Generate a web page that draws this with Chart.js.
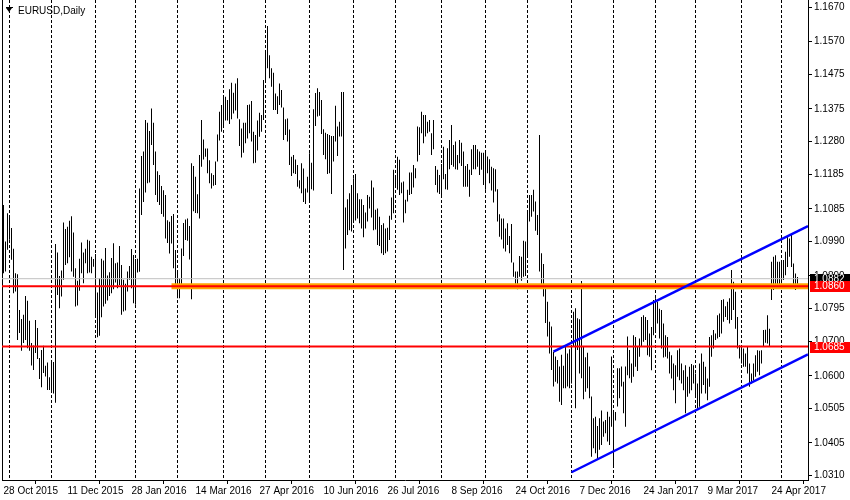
<!DOCTYPE html>
<html>
<head>
<meta charset="utf-8">
<title>EURUSD,Daily</title>
<script src="https://cdn.jsdelivr.net/npm/chart.js@4/dist/chart.umd.min.js"></script>
<style>
  html, body { margin: 0; padding: 0; background: #fff; }
  #wrap { position: relative; width: 850px; height: 500px; }
</style>
</head>
<body>
<div id="wrap"><canvas id="chart" width="850" height="500"></canvas></div>
<script>
/* ── DATA ────────────────────────────────────────────────── */
const symbolTitle = 'EURUSD,Daily';

// daily high / low, one entry per bar, bar 0 = 28 Oct 2015
const highs = [
  1.1096,1.0990,1.1072,1.1058,1.1029,1.0969,1.0898,1.0895,1.0791,1.0765, // 0
  1.0777,1.0832,1.0818,1.0760,1.0695,1.0688,1.0762,1.0739,1.0652,1.0675, // 10
  1.0687,1.0629,1.0639,1.0596,1.0641,1.0640,1.0983,1.0958,1.0890,1.0906, // 20
  1.1045,1.1026,1.1033,1.1050,1.1063,1.1016,1.0912,1.0876,1.0940,1.0987, // 30
  1.0958,1.0969,1.0995,1.0992,1.0946,1.0939,1.0954,1.0842,1.0883,1.0940, // 40
  1.0935,1.0971,1.0891,1.0901,1.0942,1.0985,1.0927,1.0929,1.0977,1.0922, // 50
  1.0879,1.0867,1.0903,1.0919,1.0968,1.0951,1.0939,1.0940,1.1144,1.1238, // 60
  1.1251,1.1343,1.1335,1.1311,1.1376,1.1335,1.1251,1.1194,1.1183,1.1151, // 70
  1.1139,1.1125,1.1052,1.1047,1.1064,1.1070,1.0965,1.0900,1.0883,1.0970, // 80
  1.1044,1.1054,1.1057,1.1035,1.1217,1.1209,1.1178,1.1127,1.1241,1.1343, // 90
  1.1286,1.1260,1.1260,1.1226,1.1188,1.1183,1.1222,1.1301,1.1367,1.1386, // 100
  1.1412,1.1410,1.1401,1.1432,1.1451,1.1422,1.1449,1.1464,1.1345,1.1318, // 110
  1.1335,1.1335,1.1386,1.1388,1.1398,1.1309,1.1299,1.1341,1.1364,1.1357, // 120
  1.1459,1.1546,1.1616,1.1531,1.1493,1.1480,1.1420,1.1412,1.1449,1.1430, // 130
  1.1379,1.1345,1.1347,1.1315,1.1236,1.1241,1.1228,1.1212,1.1168,1.1217, // 140
  1.1202,1.1144,1.1178,1.1246,1.1219,1.1374,1.1421,1.1435,1.1424,1.1401, // 150
  1.1316,1.1306,1.1302,1.1299,1.1296,1.1296,1.1384,1.1324,1.1338,1.1424, // 160
  1.1424,1.1089,1.1113,1.1130,1.1154,1.1174,1.1186,1.1130,1.1113,1.1113, // 170
  1.1096,1.1074,1.1125,1.1120,1.1167,1.1147,1.1082,1.1086,1.1062,1.1038, // 180
  1.1043,1.1028,1.1030,1.1065,1.1118,1.1198,1.1180,1.1236,1.1227,1.1161, // 190
  1.1164,1.1111,1.1140,1.1190,1.1190,1.1212,1.1203,1.1324,1.1322,1.1367, // 200
  1.1357,1.1357,1.1338,1.1343,1.1304,1.1343,1.1209,1.1198,1.1183,1.1215, // 210
  1.1265,1.1186,1.1261,1.1285,1.1328,1.1270,1.1280,1.1241,1.1285,1.1277, // 220
  1.1251,1.1209,1.1215,1.1198,1.1258,1.1270,1.1270,1.1258,1.1251,1.1248, // 230
  1.1248,1.1249,1.1237,1.1229,1.1207,1.1203,1.1200,1.1142,1.1069,1.1057, // 240
  1.1057,1.1028,1.1043,1.1006,1.1041,1.0929,1.0903,1.0903,1.0948,1.0946, // 250
  1.0992,1.0990,1.1077,1.1125,1.1125,1.1140,1.1106,1.1067,1.1299,1.0956, // 260
  1.0925,1.0859,1.0815,1.0757,1.0743,1.0670,1.0656,1.0646,1.0627,1.0661, // 270
  1.0629,1.0685,1.0665,1.0677,1.0683,1.0786,1.0796,1.0767,1.0764,1.0875, // 280
  1.0685,1.0654,1.0667,1.0627,1.0540,1.0477,1.0481,1.0454,1.0477,1.0499, // 290
  1.0467,1.0472,1.0496,1.0481,1.0656,1.0501,1.0495,1.0622,1.0622,1.0627, // 300
  1.0583,1.0627,1.0714,1.0675,1.0636,1.0718,1.0713,1.0686,1.0708,1.0771, // 310
  1.0776,1.0771,1.0762,1.0723,1.0742,1.0820,1.0825,1.0815,1.0795,1.0791, // 320
  1.0752,1.0718,1.0713,1.0670,1.0660,1.0636,1.0631,1.0674,1.0679,1.0636, // 330
  1.0616,1.0631,1.0597,1.0626,1.0634,1.0631,1.0607,1.0578,1.0636,1.0665, // 340
  1.0641,1.0626,1.0592,1.0713,1.0718,1.0733,1.0723,1.0776,1.0781,1.0820, // 350
  1.0822,1.0802,1.0815,1.0825,1.0907,1.0873,1.0844,1.0771,1.0689,1.0684, // 360
  1.0679,1.0665,1.0684,1.0636,1.0607,1.0636,1.0660,1.0674,1.0673,1.0674, // 370
  1.0733,1.0734,1.0776,1.0737,1.0931,1.0946,1.0950,1.0931,1.0931,1.0936, // 380
  1.0936,1.0960,1.1004,1.0999,1.1013,1.0926,1.0897,1.0887               // 390
];
const lows = [
  1.0898,1.0903,1.0966,1.0995,1.0937,1.0840,1.0845,1.0704,1.0724,1.0673, // 0
  1.0695,1.0704,1.0680,1.0673,1.0630,1.0617,1.0666,1.0649,1.0591,1.0567, // 10
  1.0608,1.0598,1.0559,1.0559,1.0552,1.0549,1.0522,1.0835,1.0796,1.0830, // 20
  1.0879,1.0922,1.0927,1.0944,1.0903,1.0888,1.0801,1.0804,1.0847,1.0898, // 30
  1.0869,1.0927,1.0898,1.0900,1.0898,1.0917,1.0772,1.0712,1.0716,1.0770, // 40
  1.0801,1.0809,1.0819,1.0832,1.0840,1.0851,1.0871,1.0854,1.0864,1.0777, // 50
  1.0787,1.0790,1.0845,1.0879,1.0854,1.0811,1.0806,1.0900,1.0902,1.1067, // 60
  1.1105,1.1132,1.1159,1.1161,1.1270,1.1212,1.1125,1.1105,1.1096,1.1070, // 70
  1.1062,1.0999,1.0986,1.0955,1.0984,1.0912,1.0863,1.0825,1.0825,1.0854, // 80
  1.0948,1.0994,1.0992,1.0938,1.0822,1.1078,1.1073,1.1072,1.1057,1.1207, // 90
  1.1228,1.1236,1.1188,1.1159,1.1144,1.1152,1.1154,1.1222,1.1283,1.1309, // 100
  1.1328,1.1341,1.1341,1.1331,1.1345,1.1362,1.1370,1.1347,1.1267,1.1234, // 110
  1.1248,1.1275,1.1289,1.1304,1.1280,1.1217,1.1219,1.1254,1.1294,1.1309, // 120
  1.1343,1.1459,1.1493,1.1464,1.1439,1.1372,1.1372,1.1360,1.1386,1.1379, // 130
  1.1285,1.1299,1.1280,1.1212,1.1180,1.1188,1.1186,1.1149,1.1144,1.1130, // 140
  1.1105,1.1099,1.1132,1.1105,1.1142,1.1138,1.1325,1.1353,1.1355,1.1302, // 150
  1.1241,1.1229,1.1186,1.1188,1.1128,1.1222,1.1280,1.1238,1.1295,1.1295, // 160
  1.0907,1.0970,1.1009,1.1023,1.1019,1.1048,1.1051,1.1057,1.1043,1.1028, // 170
  1.1002,1.1028,1.1048,1.1086,1.1060,1.1023,1.1025,1.0980,1.0977,1.0956, // 180
  1.0951,1.0956,1.0961,1.0994,1.1053,1.1072,1.1151,1.1140,1.1125,1.1130, // 190
  1.1045,1.1072,1.1106,1.1125,1.1128,1.1147,1.1174,1.1222,1.1241,1.1304, // 200
  1.1275,1.1295,1.1304,1.1309,1.1241,1.1258,1.1154,1.1132,1.1128,1.1120, // 210
  1.1171,1.1142,1.1140,1.1200,1.1212,1.1207,1.1200,1.1198,1.1217,1.1209, // 220
  1.1149,1.1149,1.1149,1.1120,1.1183,1.1200,1.1200,1.1207,1.1183,1.1198, // 230
  1.1154,1.1140,1.1188,1.1159,1.1138,1.1103,1.1135,1.1048,1.1004,1.0996, // 240
  1.0970,1.0961,1.0980,1.0956,1.0929,1.0888,1.0867,1.0851,1.0888,1.0876, // 250
  1.0888,1.0890,1.0946,1.1048,1.1062,1.1077,1.1021,1.1009,1.0903,1.0864, // 260
  1.0830,1.0753,1.0714,1.0665,1.0617,1.0569,1.0583,1.0578,1.0525,1.0515, // 270
  1.0564,1.0564,1.0569,1.0564,1.0578,1.0685,1.0506,1.0675,1.0607,1.0593, // 280
  1.0532,1.0554,1.0564,1.0535,1.0365,1.0390,1.0375,1.0356,1.0385,1.0399, // 290
  1.0423,1.0433,1.0409,1.0399,1.0452,1.0336,1.0470,1.0511,1.0535,1.0569, // 300
  1.0491,1.0452,1.0602,1.0593,1.0580,1.0597,1.0626,1.0614,1.0655,1.0684, // 310
  1.0699,1.0704,1.0660,1.0655,1.0616,1.0718,1.0733,1.0752,1.0708,1.0679, // 320
  1.0653,1.0655,1.0650,1.0607,1.0592,1.0558,1.0520,1.0597,1.0587,1.0578, // 330
  1.0558,1.0491,1.0539,1.0549,1.0558,1.0578,1.0539,1.0505,1.0510,1.0549, // 340
  1.0573,1.0549,1.0529,1.0568,1.0655,1.0679,1.0704,1.0708,1.0713,1.0723, // 350
  1.0757,1.0771,1.0762,1.0752,1.0762,1.0791,1.0737,1.0679,1.0650,1.0636, // 360
  1.0626,1.0626,1.0607,1.0568,1.0578,1.0587,1.0597,1.0612,1.0602,1.0636, // 370
  1.0684,1.0696,1.0694,1.0684,1.0820,1.0849,1.0858,1.0854,1.0863,1.0868, // 380
  1.0878,1.0892,1.0916,1.0946,1.0916,1.0863,1.0849,1.0863               // 390
];

// bottom axis: label text and the bar it sits on
const dateLabels = ['28 Oct 2015', '11 Dec 2015', '28 Jan 2016', '14 Mar 2016', '27 Apr 2016',
  '10 Jun 2016', '26 Jul 2016', '8 Sep 2016', '24 Oct 2016', '7 Dec 2016',
  '24 Jan 2017', '9 Mar 2017', '24 Apr 2017'];
const dateLabelBars = [0, 32, 64, 96, 128, 160, 192, 224, 256, 288, 320, 352, 384];

// first bar of each month -> dashed vertical grid
const monthStartBars = [3, 24, 46, 66, 87, 110, 131, 153, 175, 196, 219, 241, 262, 284, 305, 326, 346, 369, 389];

// right price scale
const priceTicks = [1.1670, 1.1570, 1.1475, 1.1375, 1.1280, 1.1185, 1.1085, 1.0990, 1.0890,
  1.0795, 1.0700, 1.0600, 1.0505, 1.0405, 1.0310];
const priceMin = 1.02975;
const priceMax = 1.16912;
const barMin = -0.75;
const barMax = 402.25;

// drawn objects
const bidPrice = 1.0882;
const levelPrices = [1.0860, 1.0685];
const zonePrice = 1.0860;
const zoneStartBar = 84;
const upperChannelBars = [275, 402.25];
const upperChannelPrices = [1.0670, 1.1035];
const lowerChannelBars = [284, 402.25];
const lowerChannelPrices = [1.0320, 1.0662];

/* ── HELPERS ─────────────────────────────────────────────── */
const FONT = "'Liberation Sans', Arial, sans-serif";

function hline(price, fromBar, color, width, order) {
    return {
        type: 'line',
        data: [{ x: fromBar, y: price }, { x: barMax, y: price }],
        borderColor: color,
        borderWidth: width,
        pointRadius: 0,
        order: order,
    };
}
function segment(bars, prices, color, width, order) {
    return {
        type: 'line',
        data: bars.map((b, i) => ({ x: b, y: prices[i] })),
        borderColor: color,
        borderWidth: width,
        pointRadius: 0,
        order: order,
    };
}

/* ── METATRADER DECORATIONS ──────────────────────────────── */
const mtPlugin = {
    id: 'mtDecor',
    beforeDatasetsDraw(chart) {
        const { ctx, chartArea: a, scales: { x } } = chart;
        ctx.save();
        ctx.strokeStyle = '#000';
        ctx.lineWidth = 1;
        ctx.setLineDash([3, 2]);
        monthStartBars.forEach(b => {
            const px = x.getPixelForValue(b);
            ctx.beginPath();
            ctx.moveTo(px, a.top);
            ctx.lineTo(px, a.bottom);
            ctx.stroke();
        });
        ctx.setLineDash([]);
        ctx.beginPath();
        ctx.moveTo(a.left + 0.5, a.top);
        ctx.lineTo(a.left + 0.5, a.bottom);
        ctx.stroke();
        ctx.restore();
    },
    afterDraw(chart) {
        const { ctx, chartArea: a, scales: { y } } = chart;
        ctx.save();

        /* title with the little menu arrow */
        ctx.fillStyle = '#000';
        ctx.beginPath();
        ctx.moveTo(a.left + 4, a.top + 8);
        ctx.lineTo(a.left + 10, a.top + 8);
        ctx.lineTo(a.left + 7, a.top + 12);
        ctx.closePath();
        ctx.fill();
        ctx.fillRect(a.left + 4, a.top + 7, 7, 1);
        ctx.font = '10px ' + FONT;
        ctx.textBaseline = 'middle';
        ctx.textAlign = 'left';
        ctx.fillText(symbolTitle, a.left + 16, a.top + 11);

        /* price tags on the right scale */
        const tags = [[bidPrice, '#000']].concat(levelPrices.map(p => [p, '#ff0000']));
        tags.forEach(([p, bg]) => {
            const py = Math.round(y.getPixelForValue(p));
            ctx.fillStyle = bg;
            ctx.fillRect(a.right + 2, py - 5, 40, 11);
            ctx.fillStyle = '#fff';
            ctx.fillText(p.toFixed(4), a.right + 6, py + 0.5);
        });
        ctx.restore();
    },
};

/* ── CHART ───────────────────────────────────────────────── */
new Chart(document.getElementById('chart'), {
    type: 'bar',
    data: {
        datasets: [
            segment(upperChannelBars, upperChannelPrices, '#0000ff', 2.5, 1),
            segment(lowerChannelBars, lowerChannelPrices, '#0000ff', 2.5, 1),
            ...levelPrices.map(p => hline(p, barMin, '#ff0000', 2, 2)),
            hline(zonePrice, zoneStartBar, '#ffa500', 6, 3),
            hline(bidPrice, barMin, '#c0c0c0', 1, 4),
            {
                type: 'bar',
                data: highs.map((h, i) => ({ x: i, y: [lows[i], h] })),
                backgroundColor: '#000',
                borderWidth: 0,
                barThickness: 1,
                inflateAmount: 0,
                grouped: false,
                order: 10,
            },
        ],
    },
    options: {
        responsive: false,
        animation: false,
        events: [],
        layout: { padding: { left: 2, top: 0, right: 0, bottom: 0 } },
        plugins: { legend: { display: false }, tooltip: { enabled: false } },
        scales: {
            x: {
                type: 'linear',
                position: 'bottom',
                min: barMin,
                max: barMax,
                offset: false,
                afterBuildTicks: s => { s.ticks = dateLabelBars.map(v => ({ value: v })); },
                afterFit: s => { s.height = 20; s.paddingLeft = 0; s.paddingRight = 0; },
                ticks: {
                    align: 'start',
                    autoSkip: false,
                    maxRotation: 0,
                    padding: 1,
                    color: '#000',
                    font: { family: FONT, size: 10 },
                    callback: (v, i) => dateLabels[i],
                },
                grid: { drawOnChartArea: false, tickLength: 4, color: '#000' },
                border: { display: true, color: '#000' },
            },
            y: {
                type: 'linear',
                position: 'right',
                min: priceMin,
                max: priceMax,
                afterBuildTicks: s => { s.ticks = priceTicks.map(v => ({ value: v })); },
                afterFit: s => { s.width = 42; s.paddingTop = 0; s.paddingBottom = 0; },
                ticks: {
                    autoSkip: false,
                    padding: 2,
                    color: '#000',
                    font: { family: FONT, size: 10 },
                    callback: v => v.toFixed(4),
                },
                grid: { drawOnChartArea: false, tickLength: 4, color: '#000' },
                border: { display: true, color: '#000' },
            },
        },
    },
    plugins: [mtPlugin],
});
</script>
</body>
</html>
